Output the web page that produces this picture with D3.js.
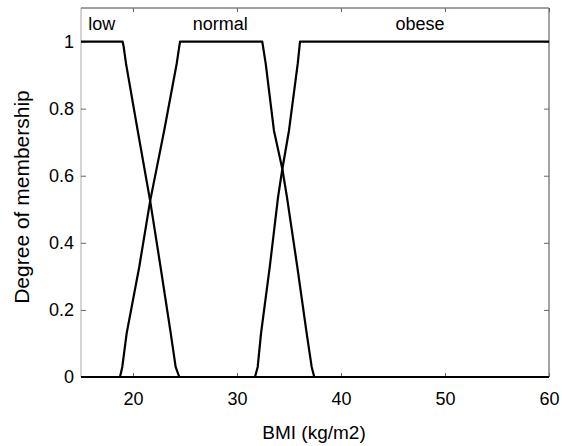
<!DOCTYPE html>
<html><head><meta charset="utf-8">
<script src="https://cdn.jsdelivr.net/npm/d3@7"></script>
<style>body{margin:0;background:#fff}svg{display:block}text{font-family:Arial,"Liberation Sans",sans-serif}</style>
</head><body><svg id="c" width="562" height="446"></svg>
<script>
const xTicks = [20, 30, 40, 50, 60];
const yTicks = [0, 0.2, 0.4, 0.6, 0.8, 1];
const lowX = [15, 19.0, 19.1, 19.33, 20.45, 21.65, 22.65, 23.63, 24.1, 24.45, 60];
const lowY = [1, 1, 0.985, 0.934, 0.735, 0.525, 0.328, 0.13, 0.03, 0, 0];
const normalX = [15, 18.75, 18.97, 19.39, 20.6, 21.65, 23.0, 24.2, 24.52, 32.43, 32.76, 33.55, 34.36, 34.8, 35.8, 36.70, 37.18, 37.43, 60];
const normalY = [0, 0, 0.03, 0.13, 0.328, 0.525, 0.735, 0.934, 1, 1, 0.934, 0.735, 0.62, 0.537, 0.328, 0.13, 0.03, 0, 0];
const obeseX = [15, 31.73, 31.99, 32.31, 33.15, 33.95, 34.36, 35.0, 35.84, 36.06, 60];
const obeseY = [0, 0, 0.03, 0.13, 0.328, 0.537, 0.62, 0.735, 0.934, 1, 1];
const labels = ["low", "normal", "obese"];
const labelX = [17.0, 28.4, 47.6];

const svg = d3.select("#c");
const L = 81, R = 549, T = 8, B = 377;
const x = d3.scaleLinear().domain([15, 60]).range([L, R]);
const y = d3.scaleLinear().domain([0, 1.1]).range([B, T]);

// frame
svg.append("line").attr("x1", L).attr("x2", L).attr("y1", T).attr("y2", B).attr("stroke", "#aaa").attr("stroke-width", 1);
svg.append("line").attr("x1", L).attr("x2", R).attr("y1", T).attr("y2", T).attr("stroke", "#444").attr("stroke-width", 1);
svg.append("line").attr("x1", R).attr("x2", R).attr("y1", T).attr("y2", B).attr("stroke", "#444").attr("stroke-width", 1);
svg.append("line").attr("x1", L).attr("x2", R).attr("y1", B).attr("y2", B).attr("stroke", "#444").attr("stroke-width", 1);

// axes
const xb = svg.append("g").attr("transform", `translate(0,${B})`)
  .call(d3.axisBottom(x).tickValues(xTicks).tickSizeInner(-4).tickSizeOuter(0).tickPadding(15));
const xt = svg.append("g").attr("transform", `translate(0,${T})`)
  .call(d3.axisTop(x).tickValues(xTicks).tickSizeInner(-4).tickSizeOuter(0).tickFormat(""));
const yl = svg.append("g").attr("transform", `translate(${L},0)`)
  .call(d3.axisLeft(y).tickValues(yTicks).tickSizeInner(-5).tickSizeOuter(0).tickPadding(7).tickFormat(d3.format("")));
const yr = svg.append("g").attr("transform", `translate(${R},0)`)
  .call(d3.axisRight(y).tickValues(yTicks).tickSizeInner(-5).tickSizeOuter(0).tickFormat(""));
[xb, xt, yl, yr].forEach(g => {
  g.select(".domain").remove();
  g.selectAll(".tick line").attr("stroke", "#666");
  g.selectAll("text").attr("font-size", 18).attr("fill", "#000").attr("font-family", "Arial, 'Liberation Sans', sans-serif");
});

// curves
const line = d3.line().x(d => x(d[0])).y(d => y(d[1]));
[[lowX, lowY], [normalX, normalY], [obeseX, obeseY]].forEach(([xs, ys]) => {
  svg.append("path").datum(xs.map((v, i) => [v, ys[i]]))
    .attr("d", line).attr("fill", "none").attr("stroke", "#000").attr("stroke-width", 2.2)
    .attr("stroke-linejoin", "round");
});

// labels
labels.forEach((t, i) => {
  svg.append("text").attr("x", x(labelX[i])).attr("y", 30).attr("text-anchor", "middle")
    .attr("font-size", 18).text(t);
});

svg.append("text").attr("x", 314).attr("y", 439).attr("text-anchor", "middle")
  .attr("font-size", 19).text("BMI (kg/m2)");
svg.append("text").attr("transform", `translate(29,197) rotate(-90)`)
  .attr("text-anchor", "middle").attr("font-size", 21).text("Degree of membership");
</script></body></html>
